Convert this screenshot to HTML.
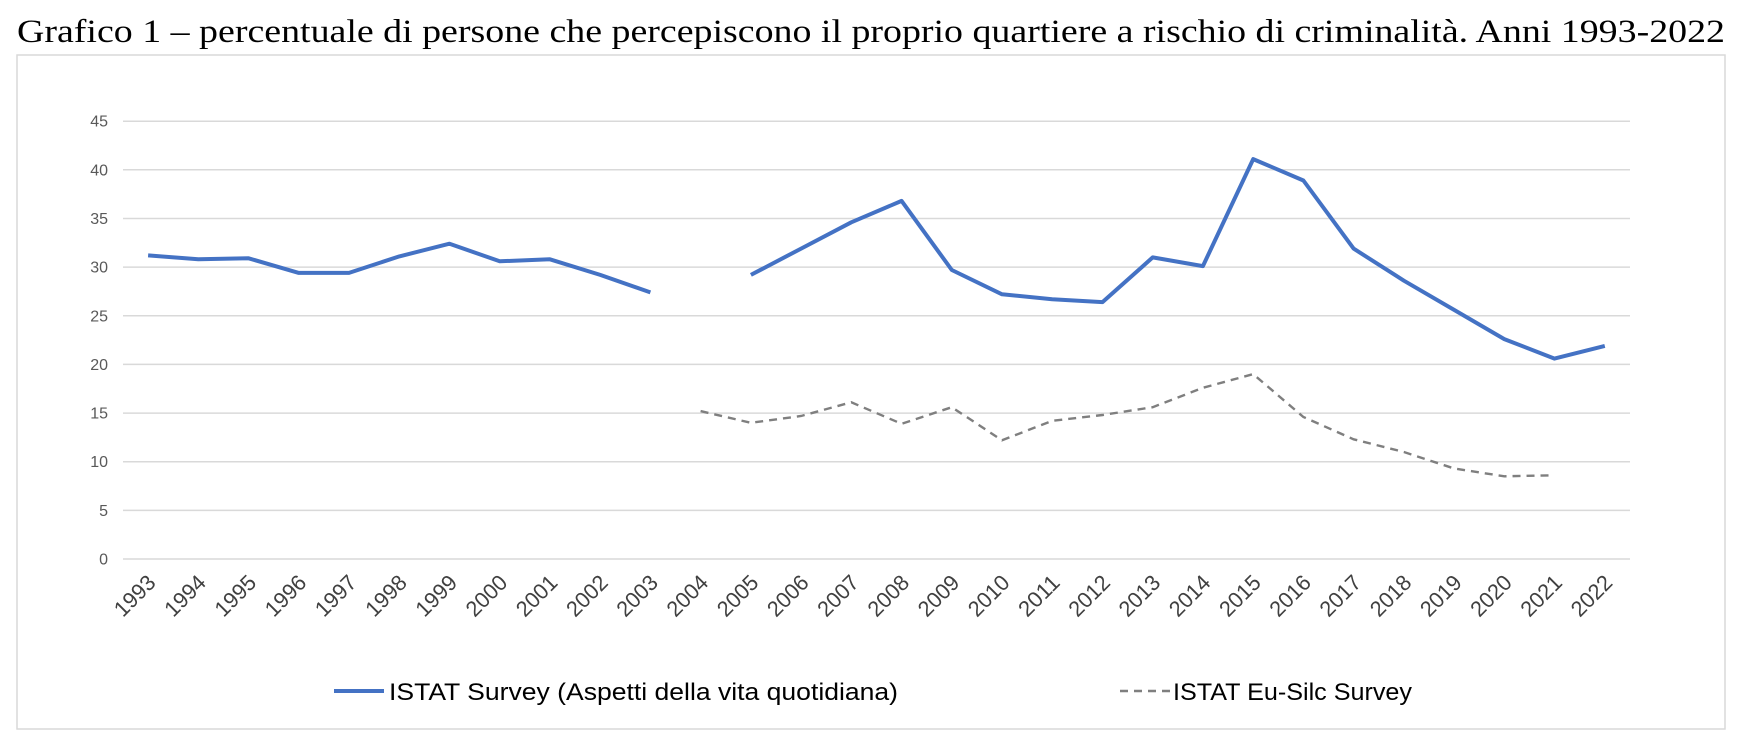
<!DOCTYPE html>
<html><head><meta charset="utf-8"><style>
html,body{margin:0;padding:0;background:#fff;}
svg{display:block;}
</style></head><body>
<svg width="1738" height="752" viewBox="0 0 1738 752" xmlns="http://www.w3.org/2000/svg">
<text x="17" y="42" font-family="Liberation Serif, serif" font-size="33" fill="#000" textLength="1708" lengthAdjust="spacingAndGlyphs">Grafico 1 – percentuale di persone che percepiscono il proprio quartiere a rischio di criminalità. Anni 1993-2022</text>
<rect x="17" y="55" width="1708" height="674" fill="none" stroke="#d9d9d9" stroke-width="1.5"/>
<g stroke="#d9d9d9" stroke-width="1.5">
<line x1="123" x2="1630" y1="559" y2="559"/>
<line x1="123" x2="1630" y1="510.4" y2="510.4"/>
<line x1="123" x2="1630" y1="461.7" y2="461.7"/>
<line x1="123" x2="1630" y1="413.1" y2="413.1"/>
<line x1="123" x2="1630" y1="364.4" y2="364.4"/>
<line x1="123" x2="1630" y1="315.8" y2="315.8"/>
<line x1="123" x2="1630" y1="267.1" y2="267.1"/>
<line x1="123" x2="1630" y1="218.5" y2="218.5"/>
<line x1="123" x2="1630" y1="169.8" y2="169.8"/>
<line x1="123" x2="1630" y1="121.2" y2="121.2"/>
</g>
<g font-family="Liberation Sans, sans-serif" font-size="16" fill="#595959" text-anchor="end">
<text x="108" y="564.5">0</text>
<text x="108" y="515.9">5</text>
<text x="108" y="467.2">10</text>
<text x="108" y="418.6">15</text>
<text x="108" y="369.9">20</text>
<text x="108" y="321.3">25</text>
<text x="108" y="272.6">30</text>
<text x="108" y="224">35</text>
<text x="108" y="175.3">40</text>
<text x="108" y="126.7">45</text>
</g>
<g font-family="Liberation Sans, sans-serif" font-size="22" fill="#404040" text-anchor="end">
<text transform="translate(157,584) rotate(-45)" textLength="48" lengthAdjust="spacingAndGlyphs">1993</text>
<text transform="translate(207.3,584) rotate(-45)" textLength="48" lengthAdjust="spacingAndGlyphs">1994</text>
<text transform="translate(257.6,584) rotate(-45)" textLength="48" lengthAdjust="spacingAndGlyphs">1995</text>
<text transform="translate(307.8,584) rotate(-45)" textLength="48" lengthAdjust="spacingAndGlyphs">1996</text>
<text transform="translate(358,584) rotate(-45)" textLength="48" lengthAdjust="spacingAndGlyphs">1997</text>
<text transform="translate(408.3,584) rotate(-45)" textLength="48" lengthAdjust="spacingAndGlyphs">1998</text>
<text transform="translate(458.5,584) rotate(-45)" textLength="48" lengthAdjust="spacingAndGlyphs">1999</text>
<text transform="translate(508.7,584) rotate(-45)" textLength="48" lengthAdjust="spacingAndGlyphs">2000</text>
<text transform="translate(558.9,584) rotate(-45)" textLength="48" lengthAdjust="spacingAndGlyphs">2001</text>
<text transform="translate(609.2,584) rotate(-45)" textLength="48" lengthAdjust="spacingAndGlyphs">2002</text>
<text transform="translate(659.4,584) rotate(-45)" textLength="48" lengthAdjust="spacingAndGlyphs">2003</text>
<text transform="translate(709.6,584) rotate(-45)" textLength="48" lengthAdjust="spacingAndGlyphs">2004</text>
<text transform="translate(759.9,584) rotate(-45)" textLength="48" lengthAdjust="spacingAndGlyphs">2005</text>
<text transform="translate(810.1,584) rotate(-45)" textLength="48" lengthAdjust="spacingAndGlyphs">2006</text>
<text transform="translate(860.3,584) rotate(-45)" textLength="48" lengthAdjust="spacingAndGlyphs">2007</text>
<text transform="translate(910.6,584) rotate(-45)" textLength="48" lengthAdjust="spacingAndGlyphs">2008</text>
<text transform="translate(960.8,584) rotate(-45)" textLength="48" lengthAdjust="spacingAndGlyphs">2009</text>
<text transform="translate(1011,584) rotate(-45)" textLength="48" lengthAdjust="spacingAndGlyphs">2010</text>
<text transform="translate(1061.2,584) rotate(-45)" textLength="48" lengthAdjust="spacingAndGlyphs">2011</text>
<text transform="translate(1111.5,584) rotate(-45)" textLength="48" lengthAdjust="spacingAndGlyphs">2012</text>
<text transform="translate(1161.7,584) rotate(-45)" textLength="48" lengthAdjust="spacingAndGlyphs">2013</text>
<text transform="translate(1211.9,584) rotate(-45)" textLength="48" lengthAdjust="spacingAndGlyphs">2014</text>
<text transform="translate(1262.2,584) rotate(-45)" textLength="48" lengthAdjust="spacingAndGlyphs">2015</text>
<text transform="translate(1312.4,584) rotate(-45)" textLength="48" lengthAdjust="spacingAndGlyphs">2016</text>
<text transform="translate(1362.6,584) rotate(-45)" textLength="48" lengthAdjust="spacingAndGlyphs">2017</text>
<text transform="translate(1412.9,584) rotate(-45)" textLength="48" lengthAdjust="spacingAndGlyphs">2018</text>
<text transform="translate(1463.1,584) rotate(-45)" textLength="48" lengthAdjust="spacingAndGlyphs">2019</text>
<text transform="translate(1513.3,584) rotate(-45)" textLength="48" lengthAdjust="spacingAndGlyphs">2020</text>
<text transform="translate(1563.5,584) rotate(-45)" textLength="48" lengthAdjust="spacingAndGlyphs">2021</text>
<text transform="translate(1613.8,584) rotate(-45)" textLength="48" lengthAdjust="spacingAndGlyphs">2022</text>
</g>
<g fill="none" stroke="#4472c4" stroke-width="4" stroke-linejoin="round">
<polyline points="148.1,255.4 198.3,259.3 248.6,258.3 298.8,272.9 349,272.9 399.3,256.4 449.5,243.7 499.7,261.3 549.9,259.3 600.2,274.9 650.4,292.4"/>
<polyline points="750.9,274.9 801.1,248.6 851.3,222.3 901.6,200.9 951.8,270 1002,294.3 1052.2,299.2 1102.5,302.1 1152.7,257.4 1202.9,266.1 1253.2,159.1 1303.4,180.5 1353.6,248.6 1403.9,280.7 1454.1,309.9 1504.3,339.1 1554.5,358.6 1604.8,345.9"/>
</g>
<polyline fill="none" stroke="#7f7f7f" stroke-width="2.4" stroke-dasharray="8,6" points="700.6,411.1 750.9,422.8 801.1,416 851.3,402.3 901.6,423.8 951.8,407.2 1002,440.3 1052.2,420.8 1102.5,415 1152.7,407.2 1202.9,387.8 1253.2,374.1 1303.4,417 1353.6,439.3 1403.9,452 1454.1,468.5 1504.3,476.3 1554.5,475.3"/>
<line x1="334" x2="384" y1="691" y2="691" stroke="#4472c4" stroke-width="4"/>
<line x1="1120" x2="1170" y1="691" y2="691" stroke="#7f7f7f" stroke-width="2.4" stroke-dasharray="8,6"/>
<g font-family="Liberation Sans, sans-serif" font-size="24" fill="#000">
<text x="389" y="700" textLength="509" lengthAdjust="spacingAndGlyphs">ISTAT Survey (Aspetti della vita quotidiana)</text>
<text x="1173" y="700" textLength="239" lengthAdjust="spacingAndGlyphs">ISTAT Eu-Silc Survey</text>
</g>
</svg>
</body></html>
